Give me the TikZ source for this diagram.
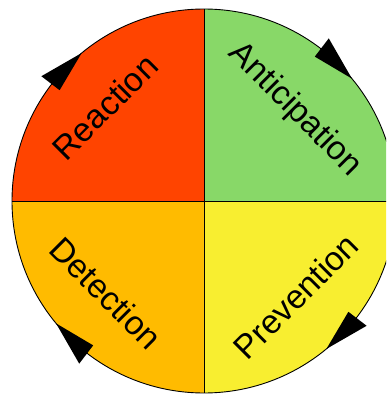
\documentclass[tikz,border=0pt]{standalone}
\usepackage{fontspec}
\setmainfont{Liberation Sans}
\definecolor{qred}{HTML}{FF4400}
\definecolor{qgreen}{HTML}{88D868}
\definecolor{qorange}{HTML}{FFBB00}
\definecolor{qyellow}{HTML}{F8EE30}
\tikzset{
  lbl/.style={font=\fontsize{33.5}{40}\selectfont, inner sep=0pt, text=black},
  tri/.style={fill=black, draw=none},
  rim/.style={draw=black, line width=0.9pt}
}
\begin{document}
\begin{tikzpicture}[x=1pt,y=1pt]
\useasboundingbox (-204,-193) rectangle (182,201);
\clip (-204,-193) rectangle (182,201);
\def\R{192}
\fill[qgreen]  (0,0) -- (0:\R) arc (0:90:\R) -- cycle;
\fill[qred]    (0,0) -- (90:\R) arc (90:180:\R) -- cycle;
\fill[qorange] (0,0) -- (180:\R) arc (180:270:\R) -- cycle;
\fill[qyellow] (0,0) -- (270:\R) arc (270:360:\R) -- cycle;
\draw[rim] (0,0) circle (\R);
\draw[rim] (90:\R) -- (270:\R);
\draw[rim] (180:\R) -- (0:\R);
% arrowheads (clockwise)
\foreach \a in {39.6,129.6,219.6,309.6}{
  \fill[tri] (\a:\R) -- ({\a+12.9}:182) -- ({\a+12.9}:205) -- cycle;
}
\node[lbl, rotate=45]  (reaction)     at (-99,94)  {Reaction};
\node[lbl, rotate=-45] (anticipation) at (91,91)   {Anticipation};
\node[lbl, rotate=-45] (detection)    at (-98,-92) {Detection};
\node[lbl, rotate=45]  (prevention)   at (92,-95)  {Prevention};
\end{tikzpicture}
\end{document}
